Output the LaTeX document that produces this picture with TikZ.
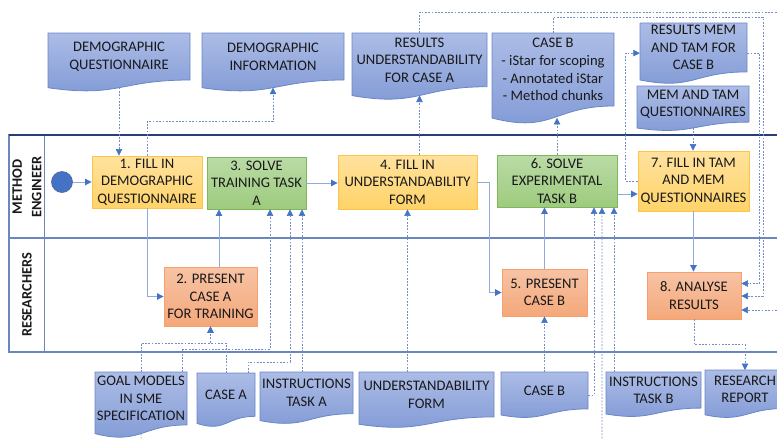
\documentclass[tikz,border=0pt]{standalone}
\usepackage{fontspec}
\setmainfont{Carlito}
\usetikzlibrary{arrows.meta,calc}
\definecolor{txt}{RGB}{25,25,25}
\definecolor{yelTop}{RGB}{255,226,158}
\definecolor{yelBot}{RGB}{255,211,105}
\definecolor{yelLine}{RGB}{255,196,70}
\definecolor{grnTop}{RGB}{186,219,166}
\definecolor{grnBot}{RGB}{158,203,126}
\definecolor{grnLine}{RGB}{125,185,90}
\definecolor{salTop}{RGB}{247,195,165}
\definecolor{salBot}{RGB}{244,168,122}
\definecolor{salLine}{RGB}{246,160,110}
\definecolor{docTop}{RGB}{172,188,230}
\definecolor{docBot}{RGB}{128,153,213}
\definecolor{docLine}{RGB}{105,135,200}
\definecolor{flowLine}{RGB}{143,170,220}
\definecolor{tipBlue}{RGB}{68,114,196}
\definecolor{dataLine}{RGB}{115,140,195}
\definecolor{laneLine}{RGB}{105,135,190}
\definecolor{navy}{RGB}{40,62,120}
\newcommand{\tbox}[7]{\node[#2, minimum width={#5-#3}, minimum height={#6-#4}] (#1) at ({(#3+#5)/2},{(#4+#6)/2}) {#7};}
\newcommand{\docnode}[6]{%
  \shadedraw[top color=docTop, bottom color=docBot, draw=docLine, line width=0.8pt]
    (#2,#3) -- (#4,#3) -- (#4,{#3+0.802*#5})
    .. controls ({(#2+#4)/2},{#3+0.802*#5}) and ({(#2+#4)/2},{#3+1.108*#5}) .. (#2,{#3+0.934*#5}) -- cycle;
  \node[doctext, minimum width={#4-#2}, minimum height={0.8*#5}, anchor=north] (#1) at ({(#2+#4)/2},#3) {#6};
  \coordinate (#1b) at ({(#2+#4)/2},{#3+0.933*#5});
}
\begin{document}
\begin{tikzpicture}[x=1pt,y=-1pt,
  font=\fontsize{14.6}{17.6}\selectfont,
  taskbase/.style={draw, line width=0.9pt, align=center, inner sep=0pt, text=txt},
  yel/.style={taskbase, top color=yelTop, bottom color=yelBot, draw=yelLine},
  grn/.style={taskbase, top color=grnTop, bottom color=grnBot, draw=grnLine},
  sal/.style={taskbase, top color=salTop, bottom color=salBot, draw=salLine},
  doctext/.style={align=center, inner sep=0pt, text=txt},
  flow/.style={draw=flowLine, line width=1pt, -{Triangle[length=6.5pt,width=6.5pt,color=tipBlue]}},
  data/.style={draw=dataLine, line width=0.6pt, dash pattern=on 1.8pt off 1.5pt, -{Triangle[length=6.5pt,width=6.5pt,color=tipBlue]}},
  lanelabel/.style={rotate=90, align=center, inner sep=0pt, font=\fontsize{14.4}{19.5}\selectfont\bfseries, text=txt}
]
\useasboundingbox (0,0) rectangle (777,439);
\clip (0,0) rectangle (777,439);

% pool and lanes
\draw[laneLine, line width=1.2pt] (9,135) rectangle (800,352);
\draw[laneLine, line width=1.6pt] (9,238) -- (800,238);
\draw[laneLine, line width=1pt] (44,135) -- (44,352);
\draw[navy, line width=1.1pt] (9,135) -- (800,135);
\node[lanelabel] (L1) at (27,187) {METHOD\\ENGINEER};
\node[lanelabel] (L2) at (27,295) {RESEARCHERS};

% start event
\node[circle, fill=tipBlue, draw=navy!80, line width=0.6pt, minimum size=21pt, inner sep=0pt] (S) at (62,182) {};

% tasks
\tbox{T1}{yel}{92}{156}{202}{208}{1. FILL IN\\DEMOGRAPHIC\\QUESTIONNAIRE}
\tbox{T3}{grn}{207}{157}{306}{209}{3. SOLVE\\TRAINING TASK\\A}
\tbox{T4}{yel}{338}{155}{477}{209}{4. FILL IN\\UNDERSTANDABILITY\\FORM}
\tbox{T6}{grn}{497}{155}{617}{207}{6. SOLVE\\EXPERIMENTAL\\TASK B}
\tbox{T7}{yel}{638}{151}{749}{211}{7. FILL IN TAM\\AND MEM\\QUESTIONNAIRES}
\tbox{T2}{sal}{164}{267}{257}{326}{2. PRESENT\\CASE A\\FOR TRAINING}
\tbox{T5}{sal}{502}{269}{587}{316}{5. PRESENT\\CASE B}
\tbox{T8}{sal}{647}{272}{741}{319}{8. ANALYSE\\RESULTS}

% documents
\docnode{D1}{48}{33}{190}{58.6}{DEMOGRAPHIC\\QUESTIONNAIRE}
\docnode{D2}{202}{33}{344}{58.6}{DEMOGRAPHIC\\INFORMATION}
\docnode{D3}{352}{33}{487}{67}{RESULTS\\UNDERSTANDABILITY\\FOR CASE A}
\docnode{D4}{492}{33}{614}{91}{CASE B\\- iStar for scoping\\- Annotated iStar\\- Method chunks}
\docnode{D5}{640}{23}{747}{61}{RESULTS MEM\\AND TAM FOR\\CASE B}
\docnode{D6}{637}{86}{749}{45}{MEM AND TAM\\QUESTIONNAIRES}
\docnode{B1}{95}{372}{187}{66}{GOAL MODELS\\IN SME\\SPECIFICATION}
\docnode{B2}{197}{373}{255}{54}{CASE A}
\docnode{B3}{260}{372}{353}{52}{INSTRUCTIONS\\TASK A}
\docnode{B4}{359}{372}{494}{56}{UNDERSTANDABILITY\\FORM}
\docnode{B5}{501}{372}{588}{46}{CASE B}
\docnode{B6}{606}{372}{701}{45}{INSTRUCTIONS\\TASK B}
\docnode{B7}{705}{370}{785}{48}{RESEARCH\\REPORT}

% helper coordinates
\coordinate (a) at ($(T2.north)+(8.5,0)$);
\coordinate (b) at ($(T6.east)+(0,13)$);
\coordinate (r1) at (790,12);
\coordinate (r2) at (763,17);
\coordinate (t8a) at ($(T8.east)+(0,-12)$);
\coordinate (t8b) at ($(T8.east)+(0,0.5)$);
\coordinate (t8c) at ($(T8.east)+(0,14.5)$);
\coordinate (t6a) at ($(T6.south)+(37,0)$);
\coordinate (t6b) at ($(T6.south)+(45,0)$);
\coordinate (t6c) at ($(T6.south)+(57,0)$);
\coordinate (t3a) at ($(T3.south)+(13.5,0)$);
\coordinate (t3b) at ($(T3.south)+(33.5,0)$);
\coordinate (t3c) at ($(T3.south)+(45.5,0)$);
\coordinate (d5w) at ($(D5.west)+(0,5.5)$);
\coordinate (d5e) at ($(D5.east)+(0,5.5)$);
\coordinate (b5e) at ($(B5.east)+(0,4.5)$);
\coordinate (low) at (142,470);

% sequence flows
\draw[flow] (S.east) -- (T1.west);
\draw[flow] (T1.south) |- (T2.west);
\draw[flow] (a) -- (a |- T3.south);
\draw[flow] (T3.east) -- (T3.east -| T4.west);
\draw[flow] (T4.east) -- ++(12,0) |- (T5.west);
\draw[flow] (T5.north) -- (T5.north |- T6.south);
\draw[flow] (b) -- (b -| T7.west);
\draw[flow] (T7.south) -- (T7.south |- T8.north);

% data associations
\draw[data] (D1b) -- (D1b |- T1.north);
\draw[data] (T1.north) -- ++(0,-34) -| (D2b);
\draw[data] (D3b |- T4.north) -- (D3b);
\draw[data] (D3.north) |- (r1) |- (t8c);
\draw[data] (D4.north) |- (r2) |- (t8b);
\draw[data] (d5e) -| ($(t8a)+(18,0)$) -- (t8a);
\draw[data] (T7.west) -- ++(-12,0) |- (d5w);
\draw[data] (T6.north) -- (T6.north |- D4b);
\draw[data] (D6b) -- (D6b |- T7.north);
\draw[data] (T8.south) -- ++(0,25) -| (B7.north);
\draw[data] (B5.north) -- (B5.north |- T5.south);
\draw[data] (b5e) -| (t6a);
\draw[data] (B1b) -- (low) -| (t6b);
\draw[data] (t6c |- B6.north) -- (t6c);
\draw[data] (T4.south |- B4.north) -- (T4.south);
\draw[data] (t3c |- B3.north) -- (t3c);
\draw[data] ($(B2.north)+(22,0)$) -- ++(0,-11) -| (t3b);
\draw[data] ($(B1.north)+(41,0)$) -- ++(0,-23) -| (t3a);
\draw[data] (B1.north) -- ++(0,-29) -| (T2.south);
\draw[data] (B2.north) -- ++(0,-30) -| (T2.south);
\end{tikzpicture}
\end{document}
